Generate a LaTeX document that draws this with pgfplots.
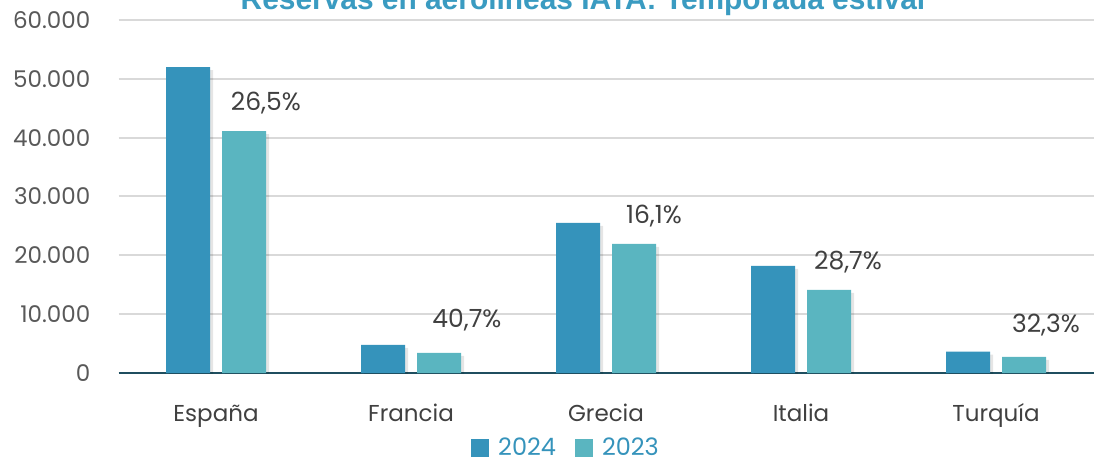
\documentclass[border=0pt]{standalone}
\usepackage{pgfplots}
\pgfplotsset{compat=1.18}
\usepackage{fontspec}
\setmainfont{Poppins}
\newfontfamily\titlefont{Liberation Sans}
\definecolor{c2024}{HTML}{3593BB}
\definecolor{c2023}{HTML}{5AB5C0}
\definecolor{tickgray}{HTML}{595959}
\definecolor{labgray}{HTML}{404040}
\definecolor{axisdark}{HTML}{1F4E5F}
\definecolor{gridgray}{HTML}{D9D9D9}
\definecolor{titleblue}{HTML}{3A9BC1}
\begin{document}
\begin{tikzpicture}[x=1pt,y=1pt]
\useasboundingbox (0,0) rectangle (1094,460);
\node[anchor=base, font=\titlefont\bfseries\fontsize{29.9}{33}\selectfont, text=titleblue] at (583,450) {Reservas en aerolíneas IATA: Temporada estival};
\begin{axis}[
  at={(118.5pt,87pt)}, anchor=south west,
  scale only axis, width=975pt, height=353pt,
  xmin=-0.5, xmax=4.5, ymin=0, ymax=60000,
  ytick={0,10000,20000,30000,40000,50000,60000},
  xtick={0,1,2,3,4},
  xticklabels={España,Francia,Grecia,Italia,Turquía},
  major tick length=0pt,
  separate axis lines,
  axis x line*=bottom, axis y line*=left,
  axis line style={-},
  x axis line style={draw=axisdark, line width=2pt},
  y axis line style={draw=none},
  ymajorgrids, grid style={draw=gridgray, line width=2pt},
  scaled y ticks=false,
  /pgf/number format/.cd, 1000 sep={.}, assume math mode=true,
  /pgfplots/.cd,
  yticklabel style={font=\fontsize{23}{27}\selectfont, text=tickgray, anchor=east, inner sep=0pt, xshift=-28pt},
  xticklabel style={font=\fontsize{23}{27}\selectfont, text=labgray, anchor=base, inner sep=0pt, yshift=-48pt},
  legend style={at={(0.459,-0.212)}, anchor=center, draw=none, fill=none, legend columns=2,
    font=\fontsize{24}{28}\selectfont,
    /tikz/every odd column/.append style={column sep=7pt},
    /tikz/every even column/.append style={column sep=17pt}},
  legend image code/.code={\fill[#1] (0pt,-9pt) rectangle (18pt,9pt);},
]
% shadows
\addplot[ybar, bar width=44pt, bar shift=-25pt, fill=black, opacity=0.10, draw=none, yshift=-3pt, forget plot]
  coordinates {(0,52000) (1,4780) (2,25500) (3,18200) (4,3650)};
\addplot[ybar, bar width=44pt, bar shift=31pt, fill=black, opacity=0.10, draw=none, yshift=-3pt, forget plot]
  coordinates {(0,41100) (1,3400) (2,21950) (3,14150) (4,2760)};
% bars
\addplot[ybar, bar width=44pt, bar shift=-28pt, fill=c2024, draw=none]
  coordinates {(0,52000) (1,4780) (2,25500) (3,18200) (4,3650)};
\addlegendentry{\textcolor{c2024}{2024}}
\addplot[ybar, bar width=44pt, bar shift=28pt, fill=c2023, draw=none]
  coordinates {(0,41100) (1,3400) (2,21950) (3,14150) (4,2760)};
\addlegendentry{\textcolor{c2024}{2023}}
% growth labels
\addplot[draw=none, mark=none, forget plot, nodes near coords, point meta=explicit symbolic,
  nodes near coords style={anchor=center, font=\fontsize{25}{29}\selectfont, text=labgray}]
  coordinates {(0.256,45900)[26,5\%] (1.287,9010)[40,7\%] (2.246,26690)[16,1\%] (3.241,18870)[28,7\%] (4.256,8160)[32,3\%]};
\end{axis}
\end{tikzpicture}
\end{document}
